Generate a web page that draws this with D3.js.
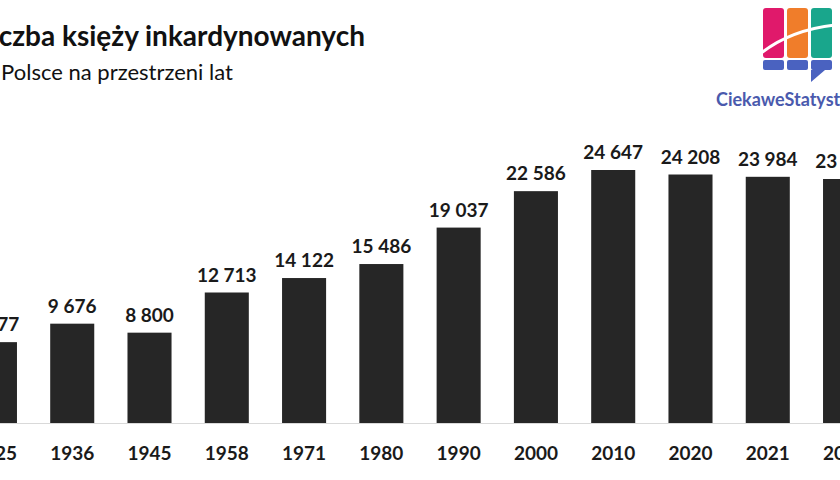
<!DOCTYPE html>
<html lang="en">
<head>
<meta charset="UTF-8">
<script src="https://d3js.org/d3.v7.min.js"></script>
<style>
  body { margin: 0; background: #fff; }
  text { font-family: Lato, "Open Sans", sans-serif; }
</style>
</head>
<body>
<div id="chart"></div>
<script>
// data
const years = ["1925", "1936", "1945", "1958", "1971", "1980", "1990", "2000", "2010", "2020", "2021", "2022"];
const priests = [7877, 9676, 8800, 12713, 14122, 15486, 19037, 22586, 24647, 24208, 23984, 23770];

const W = 840, H = 480;
const baseline = 423;

const svg = d3.select("#chart").append("svg")
    .attr("width", W).attr("height", H);

const fmt = v => d3.format(",")(v).replace(/,/g, " ");

const x = d3.scaleBand()
    .domain(years)
    .range([-43.7, 883.7])
    .paddingInner(0.43)
    .paddingOuter(0.215);

const y = d3.scaleLinear()
    .domain([0, 24647])
    .range([baseline, 170]);

// bars
svg.selectAll(".bar")
    .data(years)
    .enter().append("rect")
    .attr("x", d => x(d))
    .attr("width", x.bandwidth())
    .attr("y", (d, i) => y(priests[i]))
    .attr("height", (d, i) => baseline - y(priests[i]))
    .attr("fill", "#262626");

// baseline
svg.append("line")
    .attr("x1", 0).attr("x2", W)
    .attr("y1", baseline + 0.5).attr("y2", baseline + 0.5)
    .attr("stroke", "#d9d9d9");

// value labels
svg.selectAll(".val")
    .data(years)
    .enter().append("text")
    .attr("x", d => x(d) + x.bandwidth() / 2)
    .attr("y", (d, i) => y(priests[i]) - 11)
    .attr("text-anchor", "middle")
    .attr("font-size", 19).attr("font-weight", "bold")
    .attr("fill", "#1a1a1a")
    .text((d, i) => fmt(priests[i]));

// x axis labels
svg.selectAll(".yr")
    .data(years)
    .enter().append("text")
    .attr("x", d => x(d) + x.bandwidth() / 2)
    .attr("y", 460)
    .attr("text-anchor", "middle")
    .attr("font-size", 19).attr("font-weight", "bold")
    .attr("fill", "#1a1a1a")
    .text(d => d);

// titles
svg.append("text")
    .attr("x", -23).attr("y", 46)
    .attr("font-size", 28).attr("font-weight", "bold")
    .attr("fill", "#111")
    .text("Liczba księży inkardynowanych");

svg.append("text")
    .attr("x", -27).attr("y", 80)
    .attr("font-size", 22)
    .attr("fill", "#111")
    .text("W Polsce na przestrzeni lat");

// logo
const logo = svg.append("g");
[["#e0196b", 763], ["#f07d2a", 787], ["#19a68c", 811]].forEach(([c, lx]) => {
  logo.append("rect").attr("x", lx).attr("y", 8).attr("width", 21).attr("height", 50)
      .attr("rx", 3).attr("fill", c);
  logo.append("rect").attr("x", lx).attr("y", 60).attr("width", 21).attr("height", 10)
      .attr("rx", 2).attr("fill", "#4a62c0");
});
logo.append("path").attr("d", "M811,70 L825,70 L811,82 Z").attr("fill", "#4a62c0");
logo.append("path").attr("d", "M760,54 Q790,30 835,25")
    .attr("fill", "none").attr("stroke", "#fff").attr("stroke-width", 3);
svg.append("text")
    .attr("x", 716).attr("y", 106)
    .attr("font-size", 18).attr("font-weight", "bold")
    .attr("fill", "#4a5aad")
    .text("CiekaweStatystyki");
</script>
</body>
</html>
